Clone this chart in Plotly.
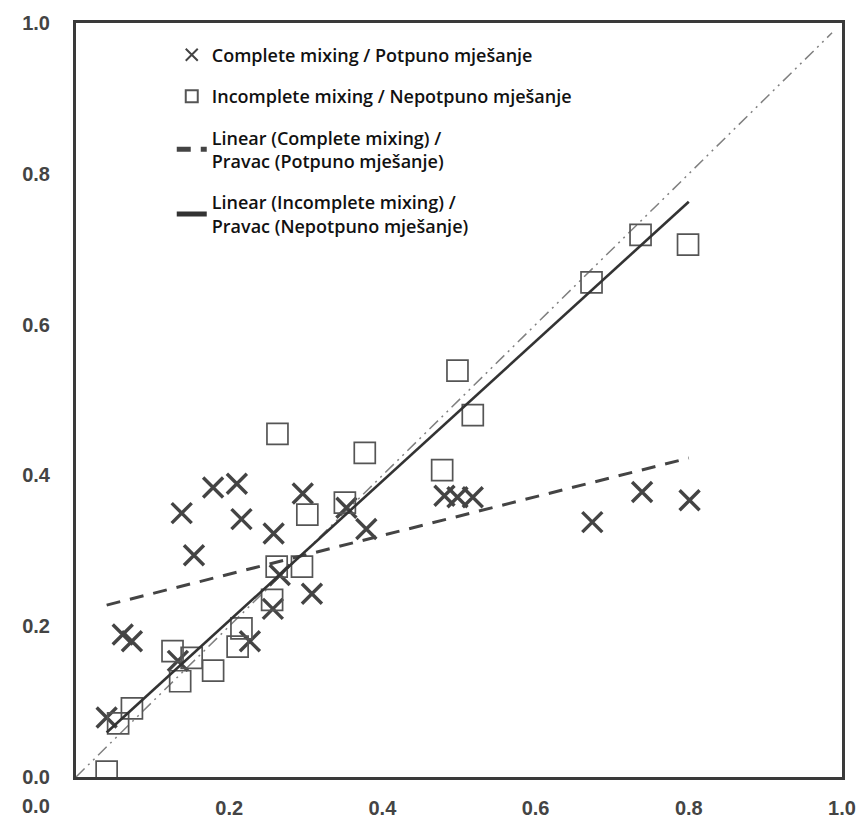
import plotly.graph_objects as go

# Complete mixing / Potpuno mješanje (crosses)
complete_x = [0.040, 0.061, 0.073, 0.133, 0.138, 0.154, 0.179, 0.210, 0.216, 0.227,
              0.257, 0.258, 0.266, 0.296, 0.308, 0.353, 0.379, 0.481, 0.498, 0.518,
              0.674, 0.739, 0.801]
complete_y = [0.079, 0.189, 0.180, 0.154, 0.350, 0.294, 0.384, 0.389, 0.342, 0.180,
              0.223, 0.323, 0.268, 0.376, 0.243, 0.357, 0.329, 0.373, 0.371, 0.371,
              0.338, 0.378, 0.367]

# Incomplete mixing / Nepotpuno mješanje (squares)
incomplete_x = [0.040, 0.055, 0.073, 0.126, 0.136, 0.151, 0.179, 0.211, 0.216, 0.256,
                0.262, 0.263, 0.295, 0.302, 0.351, 0.377, 0.478, 0.498, 0.518, 0.673,
                0.737, 0.799]
incomplete_y = [0.007, 0.071, 0.091, 0.167, 0.127, 0.158, 0.141, 0.173, 0.197, 0.235,
                0.279, 0.455, 0.279, 0.348, 0.364, 0.430, 0.407, 0.539, 0.480, 0.656,
                0.719, 0.706]

# Linear trendlines (end points)
trend_x = [0.040, 0.800]
trend_complete_y = [0.228, 0.423]
trend_incomplete_y = [0.059, 0.763]

# 1:1 reference line
ref_x = [0.0, 0.987]
ref_y = [0.0, 0.987]

tick_vals = [0.2, 0.4, 0.6, 0.8, 1.0]
tick_text = ["0.2", "0.4", "0.6", "0.8", "1.0"]
ytick_vals = [0.0, 0.2, 0.4, 0.6, 0.8, 1.0]
ytick_text = ["0.0", "0.2", "0.4", "0.6", "0.8", "1.0"]

names = [
    "Complete mixing / Potpuno mješanje",
    "Incomplete mixing / Nepotpuno mješanje",
    "Linear (Complete mixing) /<br>Pravac (Potpuno mješanje)",
    "Linear (Incomplete mixing) /<br>Pravac (Nepotpuno mješanje)",
]

fig = go.Figure()

fig.add_trace(go.Scatter(
    x=ref_x, y=ref_y, mode="lines", showlegend=False, hoverinfo="skip",
    line=dict(color="#808080", width=1.5, dash="12px,5px,2px,5px,2px,5px"),
))

fig.add_trace(go.Scatter(
    x=complete_x, y=complete_y, mode="markers", name=names[0], legendgroup="a",
    marker=dict(symbol="x-thin", size=20, line=dict(color="#444444", width=3.4), color="#444444"),
))
fig.add_trace(go.Scatter(
    x=incomplete_x, y=incomplete_y, mode="markers", name=names[1], legendgroup="b",
    marker=dict(symbol="square-open", size=21, color="#555555", line=dict(width=1.7)),
))
fig.add_trace(go.Scatter(
    x=trend_x, y=trend_complete_y, mode="lines", name=names[2], legendgroup="c",
    line=dict(color="#444444", width=3, dash="14px,10px"),
))
fig.add_trace(go.Scatter(
    x=trend_x, y=trend_incomplete_y, mode="lines", name=names[3], legendgroup="d",
    line=dict(color="#333333", width=2.6),
))

tick_font = dict(family="Liberation Sans", size=20, color="#444444", weight="bold")

axis_common = dict(
    range=[0, 1], showgrid=False, zeroline=False, showline=True, mirror=True,
    linecolor="#3a3a3a", linewidth=3, ticks="", tickfont=tick_font,
)

fig.update_layout(
    width=868, height=832,
    margin=dict(l=76, r=25, t=16, b=55),
    paper_bgcolor="white", plot_bgcolor="white",
    xaxis=dict(**axis_common, tickvals=tick_vals, ticktext=tick_text, ticklabelstandoff=11),
    yaxis=dict(**axis_common, tickvals=ytick_vals, ticktext=ytick_text, ticklabelstandoff=19),
    showlegend=True,
    legend=dict(
        x=0.125, y=0.982, xanchor="left", yanchor="top",
        bgcolor="rgba(0,0,0,0)", borderwidth=0,
        font=dict(family="Open Sans", size=18, color="#111111", weight=600),
        traceorder="grouped", tracegroupgap=15, itemsizing="constant",
    ),
    annotations=[dict(
        text="0.0", xref="paper", yref="paper", x=-0.052, y=0, yshift=-29,
        xanchor="center", yanchor="middle", showarrow=False, font=tick_font,
    )],
)

fig.write_html("out.html")
